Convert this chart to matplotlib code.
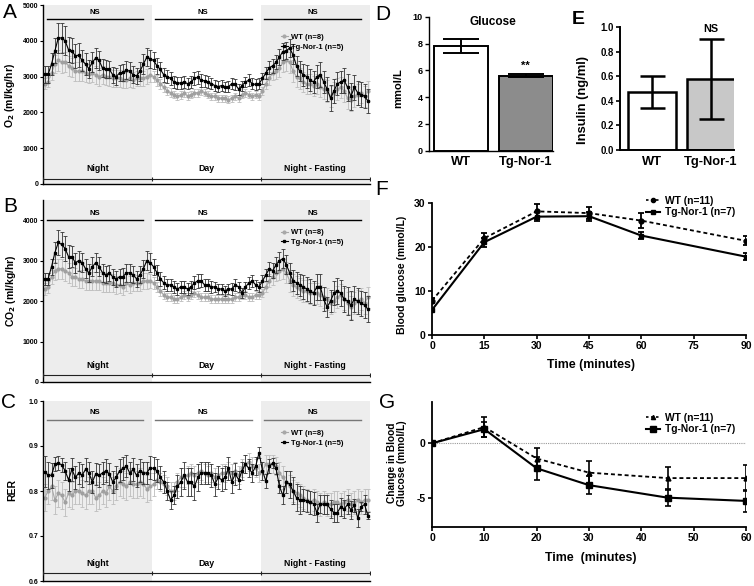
import numpy as np
import matplotlib
matplotlib.use("Agg")
import matplotlib.pyplot as plt
from matplotlib.lines import Line2D

plt.rcParams['font.family'] = ['Liberation Sans', 'DejaVu Sans']
plt.rcParams['font.weight'] = 'bold'
plt.rcParams['axes.labelweight'] = 'bold'
plt.rcParams['axes.linewidth'] = 1.0

# ---------------- data ----------------
regions = ["Night", "Day", "Night - Fasting"]

o2_tg = [3060, 3060, 3350, 3720, 4080, 4080, 4000, 3750, 3720, 3580, 3600, 3450, 3350, 3220, 3400, 3520,
         3450, 3230, 3220, 3200, 3050, 3000, 3100, 3120, 3180, 3150, 3050, 3020, 3150, 3350, 3540, 3500,
         3450, 3300, 3200, 3050, 3000, 2950, 2850, 2820, 2820, 2850, 2800, 2850, 2950, 2980, 2900, 2880,
         2850, 2800, 2750, 2720, 2750, 2720, 2720, 2800, 2780, 2650, 2750, 2850, 2900, 2800, 2780, 2800,
         2950, 3100, 3250, 3300, 3400, 3550, 3700, 3720, 3800, 3600, 3300, 3150, 3050, 3000, 2900, 2850,
         3000, 3050, 2850, 2650, 2400, 2600, 2800, 2850, 2900, 2700, 2450, 2700, 2550, 2500, 2450, 2320]
o2_tg_err = [250, 250, 300, 350, 420, 430, 400, 350, 350, 330, 330, 300, 300, 250, 280, 280,
             270, 250, 250, 230, 220, 230, 230, 240, 250, 250, 240, 230, 260, 280, 250, 250,
             230, 220, 200, 190, 180, 180, 170, 160, 160, 170, 160, 170, 180, 190, 180, 170,
             160, 160, 150, 150, 150, 140, 150, 160, 160, 150, 140, 150, 160, 160, 150, 150,
             160, 170, 180, 200, 200, 220, 230, 240, 250, 260, 270, 280, 300, 320, 300, 300,
             320, 350, 300, 330, 370, 340, 320, 320, 350, 380, 380, 350, 340, 340, 330, 330]
o2_wt = [2800, 2850, 3100, 3350, 3450, 3400, 3420, 3300, 3250, 3150, 3150, 3150, 3100, 3080, 3100, 3050,
         3000, 3050, 3000, 2980, 2950, 2950, 2950, 2900, 2900, 2950, 2900, 2950, 2950, 2950, 3000, 3050,
         3000, 2900, 2800, 2700, 2600, 2550, 2500, 2450, 2480, 2550, 2450, 2500, 2550, 2550, 2600, 2550,
         2500, 2450, 2450, 2400, 2400, 2400, 2350, 2400, 2450, 2400, 2500, 2550, 2500, 2450, 2500, 2450,
         2600, 2800, 2950, 3100, 3150, 3250, 3400, 3450, 3400, 3150, 3000, 2950, 2850, 2800, 2800, 2750,
         2800, 2700, 2650, 2600, 2450, 2550, 2650, 2700, 2600, 2400, 2350, 2450, 2500, 2550, 2450, 2600]
o2_wt_err = [150, 150, 200, 250, 300, 300, 280, 270, 260, 260, 260, 260, 260, 260, 260, 250,
             250, 250, 240, 240, 240, 240, 230, 230, 230, 230, 220, 220, 220, 220, 220, 200,
             160, 150, 140, 130, 120, 120, 110, 100, 110, 110, 110, 110, 110, 110, 110, 100,
             100, 100, 100, 100, 100, 100, 100, 100, 100, 100, 110, 110, 110, 100, 100, 100,
             120, 150, 180, 200, 230, 250, 280, 280, 300, 300, 300, 300, 280, 280, 280, 280,
             280, 280, 280, 300, 300, 300, 300, 300, 300, 300, 300, 300, 300, 300, 300, 280]

co2_tg = [2550, 2550, 2850, 3200, 3450, 3400, 3300, 3100, 3100, 2950, 3000, 2950, 2800, 2700, 2850, 2950,
          2850, 2700, 2650, 2700, 2600, 2550, 2600, 2600, 2700, 2700, 2650, 2550, 2650, 2800, 3000, 2950,
          2850, 2700, 2550, 2450, 2400, 2400, 2350, 2300, 2350, 2350, 2300, 2350, 2450, 2500, 2500, 2400,
          2400, 2350, 2350, 2300, 2300, 2250, 2300, 2300, 2400, 2350, 2200, 2350, 2450, 2500, 2400, 2350,
          2500, 2650, 2800, 2750, 2900, 3000, 3050, 2900, 2700, 2500, 2450, 2400, 2350, 2300, 2250, 2200,
          2350, 2350, 2050, 1850, 2000, 2200, 2250, 2200, 2050, 2000, 1900, 2050, 2000, 1950, 1900, 1800]
co2_tg_err = [150, 150, 200, 250, 300, 300, 300, 280, 260, 250, 250, 240, 230, 220, 230, 240,
              230, 220, 210, 200, 200, 200, 200, 210, 220, 220, 210, 200, 210, 220, 230, 230,
              200, 190, 170, 160, 150, 150, 140, 140, 140, 150, 140, 150, 160, 170, 160, 150,
              140, 140, 130, 130, 130, 130, 130, 140, 140, 130, 120, 130, 140, 140, 130, 130,
              140, 150, 170, 190, 200, 220, 230, 240, 250, 260, 270, 280, 300, 300, 290, 300,
              320, 330, 300, 250, 280, 300, 310, 320, 330, 340, 360, 330, 320, 310, 320, 320]
co2_wt = [2300, 2350, 2600, 2750, 2800, 2800, 2750, 2700, 2600, 2600, 2550, 2550, 2500, 2500, 2500, 2500,
          2500, 2450, 2450, 2450, 2450, 2400, 2400, 2350, 2450, 2400, 2450, 2450, 2450, 2500, 2500, 2500,
          2450, 2350, 2250, 2150, 2100, 2100, 2050, 2050, 2100, 2150, 2100, 2150, 2200, 2150, 2100, 2100,
          2100, 2050, 2050, 2050, 2050, 2050, 2050, 2050, 2100, 2100, 2150, 2150, 2100, 2100, 2150, 2150,
          2200, 2350, 2500, 2600, 2700, 2750, 2800, 2700, 2500, 2400, 2350, 2300, 2250, 2250, 2200, 2200,
          2200, 2150, 2100, 2050, 1950, 2000, 2100, 2150, 2050, 1950, 1850, 1950, 2000, 2050, 1950, 2100]
co2_wt_err = [150, 150, 180, 220, 250, 250, 250, 240, 230, 230, 230, 230, 230, 230, 230, 230,
              220, 220, 220, 220, 220, 220, 210, 210, 210, 210, 210, 200, 200, 200, 200, 180,
              140, 130, 120, 110, 100, 100, 90, 90, 90, 90, 90, 90, 90, 90, 90, 90,
              90, 90, 90, 90, 90, 90, 90, 90, 90, 90, 90, 90, 90, 90, 90, 90,
              110, 130, 160, 190, 210, 230, 250, 260, 270, 270, 270, 270, 260, 260, 260, 260,
              260, 260, 260, 270, 270, 280, 280, 280, 280, 280, 280, 280, 280, 280, 270, 260]

rer_tg = [0.843, 0.835, 0.835, 0.860, 0.862, 0.858, 0.845, 0.825, 0.848, 0.830, 0.840, 0.835, 0.848, 0.840, 0.820, 0.838,
          0.835, 0.840, 0.845, 0.838, 0.820, 0.830, 0.845, 0.850, 0.855, 0.840, 0.848, 0.835, 0.845, 0.840, 0.840, 0.852,
          0.850, 0.845, 0.830, 0.820, 0.800, 0.780, 0.790, 0.810, 0.820, 0.835, 0.820, 0.820, 0.810, 0.830, 0.840, 0.840,
          0.840, 0.835, 0.815, 0.830, 0.825, 0.830, 0.850, 0.820, 0.838, 0.825, 0.845, 0.860, 0.850, 0.840, 0.855, 0.885,
          0.845, 0.822, 0.855, 0.862, 0.850, 0.810, 0.790, 0.820, 0.815, 0.800, 0.785, 0.780, 0.780, 0.778, 0.775, 0.772,
          0.752, 0.772, 0.770, 0.770, 0.760, 0.752, 0.752, 0.765, 0.760, 0.770, 0.758, 0.768, 0.740, 0.765, 0.770, 0.745]
rer_tg_err = [0.035, 0.030, 0.028, 0.015, 0.015, 0.015, 0.020, 0.025, 0.025, 0.025, 0.025, 0.025, 0.025, 0.025, 0.025, 0.025,
              0.025, 0.025, 0.025, 0.025, 0.025, 0.025, 0.025, 0.025, 0.025, 0.025, 0.025, 0.025, 0.025, 0.025, 0.025, 0.025,
              0.025, 0.025, 0.025, 0.025, 0.020, 0.020, 0.020, 0.025, 0.030, 0.030, 0.030, 0.030, 0.030, 0.030, 0.025, 0.025,
              0.025, 0.025, 0.025, 0.025, 0.025, 0.025, 0.025, 0.025, 0.025, 0.020, 0.020, 0.020, 0.020, 0.020, 0.020, 0.012,
              0.020, 0.015, 0.015, 0.012, 0.012, 0.015, 0.020, 0.025, 0.030, 0.030, 0.030, 0.030, 0.025, 0.025, 0.025, 0.025,
              0.020, 0.020, 0.020, 0.020, 0.020, 0.020, 0.020, 0.020, 0.020, 0.020, 0.020, 0.015, 0.020, 0.010, 0.020, 0.008]
rer_wt = [0.785, 0.800, 0.810, 0.780, 0.795, 0.790, 0.775, 0.795, 0.790, 0.800, 0.800, 0.795, 0.790, 0.800, 0.800, 0.785,
          0.790, 0.800, 0.795, 0.810, 0.800, 0.810, 0.820, 0.815, 0.810, 0.820, 0.815, 0.815, 0.820, 0.815, 0.805, 0.810,
          0.815, 0.825, 0.820, 0.815, 0.810, 0.800, 0.800, 0.820, 0.830, 0.830, 0.835, 0.840, 0.835, 0.840, 0.845, 0.840,
          0.835, 0.840, 0.830, 0.835, 0.840, 0.840, 0.845, 0.840, 0.845, 0.835, 0.850, 0.860, 0.865, 0.855, 0.850, 0.840,
          0.845, 0.860, 0.860, 0.860, 0.855, 0.840, 0.830, 0.820, 0.810, 0.800, 0.795, 0.790, 0.785, 0.780, 0.775, 0.780,
          0.775, 0.770, 0.775, 0.770, 0.770, 0.775, 0.775, 0.770, 0.775, 0.780, 0.770, 0.775, 0.780, 0.775, 0.780, 0.780]
rer_wt_err = [0.030, 0.030, 0.030, 0.030, 0.030, 0.030, 0.030, 0.030, 0.030, 0.030, 0.030, 0.030, 0.030, 0.030, 0.030, 0.030,
              0.030, 0.030, 0.030, 0.030, 0.030, 0.030, 0.030, 0.030, 0.030, 0.030, 0.030, 0.030, 0.030, 0.030, 0.030, 0.030,
              0.025, 0.020, 0.020, 0.020, 0.020, 0.020, 0.020, 0.020, 0.020, 0.020, 0.020, 0.020, 0.020, 0.020, 0.020, 0.020,
              0.020, 0.020, 0.020, 0.020, 0.020, 0.020, 0.020, 0.020, 0.020, 0.020, 0.020, 0.020, 0.020, 0.020, 0.020, 0.020,
              0.020, 0.020, 0.020, 0.020, 0.020, 0.025, 0.025, 0.025, 0.025, 0.025, 0.025, 0.025, 0.025, 0.025, 0.025, 0.025,
              0.025, 0.025, 0.025, 0.025, 0.025, 0.025, 0.025, 0.025, 0.025, 0.025, 0.025, 0.025, 0.025, 0.025, 0.025, 0.025]

groups = ["WT", "Tg-Nor-1"]
glucose_mean = [7.8, 5.6]
glucose_err = [0.5, 0.1]
insulin_mean = [0.47, 0.58]
insulin_err = [0.13, 0.325]

gtt_time = [0, 15, 30, 45, 60, 90]
gtt_wt = [7.8, 22.0, 28.1, 27.7, 26.0, 21.4]
gtt_wt_err = [0.5, 1.2, 1.7, 1.4, 1.7, 1.0]
gtt_tg = [5.7, 21.1, 26.9, 27.0, 22.6, 17.8]
gtt_tg_err = [0.3, 1.0, 1.0, 1.0, 0.8, 0.8]

itt_time = [0, 10, 20, 30, 45, 60]
itt_wt = [0.0, 1.5, -1.4, -2.7, -3.2, -3.2]
itt_wt_err = [0.0, 0.9, 1.0, 1.1, 1.05, 1.2]
itt_tg = [0.0, 1.3, -2.3, -3.85, -5.0, -5.3]
itt_tg_err = [0.0, 0.7, 1.05, 0.8, 0.8, 1.0]

# ---------------- figure ----------------
W, H = 754, 586
fig = plt.figure(figsize=(W / 100, H / 100), dpi=100)


def ax_px(x0, y0, x1, y1):
    return fig.add_axes([x0 / W, 1 - y1 / H, (x1 - x0) / W, (y1 - y0) / H])


def ftext(x, y, s, **kw):
    kw.setdefault('ha', 'center')
    kw.setdefault('va', 'center')
    return fig.text(x / W, 1 - y / H, s, **kw)


def timeseries(ax, tg, tg_err, wt, wt_err, ylim, yticks, ns_y, ns_txt_y, lab_y, br_y, ns_color):
    n = len(tg)
    x = np.arange(n)
    ax.set_xlim(-0.5, n - 0.4)
    ax.set_ylim(*ylim)
    ax.axvspan(-0.5, 31.5, color='#ededed', zorder=0, lw=0)
    ax.axvspan(63.5, n - 0.4, color='#ededed', zorder=0, lw=0)
    ax.errorbar(x, wt, yerr=wt_err, color='#a8a8a8', ecolor='#bdbdbd', elinewidth=0.6, capsize=1.2,
                capthick=0.6, lw=0.8, marker='o', ms=2.0, mec='#a0a0a0', mfc='#a0a0a0', zorder=2)
    ax.errorbar(x, tg, yerr=tg_err, color='black', ecolor='#333333', elinewidth=0.6, capsize=1.2,
                capthick=0.6, lw=0.8, marker='s', ms=2.0, mec='black', mfc='black', zorder=3)
    for (a, b) in [(0.8, 28.9), (32.4, 60.8), (64.5, 92.9)]:
        ax.plot([a, b], [ns_y, ns_y], color=ns_color, lw=1.0, zorder=4)
        ax.text((a + b) / 2, ns_txt_y, "NS", ha='center', va='center', fontsize=5.5)
    for xc, lab in zip([15.5, 47.5, 79.5], regions):
        ax.text(xc, lab_y, lab, ha='center', va='center', fontsize=6.3)
    ax.plot([-0.5, n - 0.5], [br_y, br_y], color='#222222', lw=0.8, zorder=4)
    ax.plot([-0.5, 31.5, 63.5, n - 0.5], [br_y] * 4, ls='none', marker='|', ms=3.5, mew=0.8,
            color='#222222', zorder=4)
    ax.spines['top'].set_visible(False)
    ax.spines['right'].set_visible(False)
    ax.set_xticks([])
    ax.set_yticks(yticks)
    ax.tick_params(axis='y', labelsize=5, length=2.5, width=0.8, pad=1.0)
    handles = [Line2D([], [], color='#a8a8a8', marker='o', ms=2.0, lw=0.8),
               Line2D([], [], color='black', marker='s', ms=2.0, lw=0.8)]
    ax.legend(handles, ["WT (n=8)", "Tg-Nor-1 (n=5)"], loc='upper left', bbox_to_anchor=(0.71, 0.87),
              frameon=False, fontsize=5.5, handlelength=1.0, handletextpad=0.4, labelspacing=0.3,
              borderpad=0.2)


# Panel A
axA = ax_px(43, 5, 370, 184)
timeseries(axA, o2_tg, o2_tg_err, o2_wt, o2_wt_err, (0, 5000), [0, 1000, 2000, 3000, 4000, 5000],
           4600, 4800, 430, 150, 'black')
ftext(10, 95, "O$_2$ (ml/kg/hr)", rotation=90, fontsize=7.5)
ftext(10, 12, "A", fontsize=15, fontweight='normal')

# Panel B
axB = ax_px(43, 200, 370, 382)
timeseries(axB, co2_tg, co2_tg_err, co2_wt, co2_wt_err, (0, 4500), [0, 1000, 2000, 3000, 4000],
           4000, 4170, 413, 165, 'black')
ftext(11, 291, "CO$_2$ (ml/kg/hr)", rotation=90, fontsize=7.5)
ftext(10, 206, "B", fontsize=15, fontweight='normal')

# Panel C
axC = ax_px(43, 401, 370, 581)
timeseries(axC, rer_tg, rer_tg_err, rer_wt, rer_wt_err, (0.6, 1.0), [0.6, 0.7, 0.8, 0.9, 1.0],
           0.958, 0.975, 0.639, 0.6185, '#777777')
axC.yaxis.set_major_formatter(matplotlib.ticker.FormatStrFormatter('%.1f'))
ftext(12, 490, "RER", rotation=90, fontsize=7.5)
ftext(9, 402, "C", fontsize=15, fontweight='normal')

# Panel D
axD = ax_px(429, 16.7, 553, 150.7)
axD.bar([0, 1], glucose_mean, width=0.837, color=['white', '#8c8c8c'], edgecolor='black', lw=1.4, zorder=2)
axD.errorbar([0, 1], glucose_mean, yerr=glucose_err, fmt='none', ecolor='black', elinewidth=1.4,
             capsize=13, capthick=1.4, zorder=3)
axD.set_xlim(-0.496, 1.426)
axD.set_ylim(0, 10)
axD.set_yticks([0, 2, 4, 6, 8, 10])
axD.set_xticks([0, 1])
axD.set_xticklabels(groups, fontsize=9.3)
axD.tick_params(axis='y', labelsize=6.5, length=3, width=1, pad=1.5)
axD.tick_params(axis='x', length=0, pad=4)
for s in ['top', 'right']:
    axD.spines[s].set_visible(False)
axD.text(0.5, 9.6, "Glucose", ha='center', va='center', fontsize=8.5)
axD.text(1, 6.3, "**", ha='center', va='center', fontsize=8)
ftext(398, 88, "mmol/L", rotation=90, fontsize=8)
ftext(383, 15, "D", fontsize=15, fontweight='normal')

# Panel E
axE = ax_px(620, 27, 734, 150)
axE.bar([0, 1], insulin_mean, width=0.82, color=['white', '#c8c8c8'], edgecolor='black', lw=1.8, zorder=2)
axE.errorbar([0, 1], insulin_mean, yerr=insulin_err, fmt='none', ecolor='black', elinewidth=1.8,
             capsize=9, capthick=1.8, zorder=3)
axE.set_xlim(-0.547, 1.40)
axE.set_ylim(0, 1.0)
axE.set_yticks([0, 0.2, 0.4, 0.6, 0.8, 1.0])
axE.yaxis.set_major_formatter(matplotlib.ticker.FormatStrFormatter('%.1f'))
axE.set_xticks([0, 1])
axE.set_xticklabels(groups, fontsize=9.3)
axE.tick_params(axis='y', labelsize=6.9, length=3, width=1.2, pad=1.5)
axE.tick_params(axis='x', length=0, pad=4)
for s in ['top', 'right']:
    axE.spines[s].set_visible(False)
axE.spines['left'].set_linewidth(1.4)
axE.spines['bottom'].set_linewidth(1.4)
axE.text(1, 0.98, "NS", ha='center', va='center', fontsize=7.8)
ftext(583, 100, "Insulin (ng/ml)", rotation=90, fontsize=9.4)
ftext(578, 20, "E", fontsize=14, fontweight='bold')

# Panel F
axF = ax_px(432, 203, 746, 335)
axF.errorbar(gtt_time, gtt_wt, yerr=gtt_wt_err, color='black', ls=(0, (2.2, 1.6)), lw=1.3, marker='o', ms=3.5,
             elinewidth=1.3, capsize=2.5, capthick=1.3, zorder=3)
axF.errorbar(gtt_time, gtt_tg, yerr=gtt_tg_err, color='black', ls='-', lw=1.5, marker='s', ms=3.5,
             elinewidth=1.3, capsize=2.5, capthick=1.3, zorder=3)
axF.set_xlim(0, 90)
axF.set_ylim(0, 30)
axF.set_xticks([0, 15, 30, 45, 60, 75, 90])
axF.set_yticks([0, 10, 20, 30])
axF.tick_params(labelsize=7.5, length=3, width=1.2, pad=1.5)
for s in ['top', 'right']:
    axF.spines[s].set_visible(False)
axF.spines['left'].set_linewidth(1.3)
axF.spines['bottom'].set_linewidth(1.3)
axF.legend([Line2D([], [], color='black', ls=(0, (1.5, 1.5)), lw=1.2, marker='o', ms=3),
            Line2D([], [], color='black', ls='-', lw=1.5, marker='s', ms=3.5)],
           ["WT (n=11)", "Tg-Nor-1 (n=7)"], loc='upper left', bbox_to_anchor=(0.66, 1.11), frameon=False,
           fontsize=7.4, handlelength=1.3, handletextpad=0.5, labelspacing=0.15, borderpad=0.2)
ftext(591, 365, "Time (minutes)", fontsize=8.9)
ftext(402, 275, "Blood glucose (mmol/L)", rotation=90, fontsize=7.5)
ftext(382, 190, "F", fontsize=15, fontweight='normal')

# Panel G
axG = ax_px(432, 402, 746, 527)
axG.axhline(0, color='#999999', lw=0.8, ls=(0, (1, 1)), zorder=1)
axG.errorbar(itt_time, itt_wt, yerr=itt_wt_err, color='black', ls=(0, (2.2, 1.6)), lw=1.3, marker='^', ms=3.5,
             elinewidth=1.2, capsize=2.5, capthick=1.2, zorder=3)
axG.errorbar(itt_time, itt_tg, yerr=itt_tg_err, color='black', ls='-', lw=1.5, marker='s', ms=4,
             elinewidth=1.2, capsize=2.5, capthick=1.2, zorder=3)
axG.set_xlim(0, 60)
axG.set_ylim(-7.7, 3.8)
axG.set_xticks([0, 10, 20, 30, 40, 50, 60])
axG.set_yticks([-5, 0])
axG.set_yticklabels(["-5", "0"])
axG.tick_params(labelsize=7.5, length=3, width=1.2, pad=1.5)
for s in ['top', 'right']:
    axG.spines[s].set_visible(False)
axG.spines['left'].set_linewidth(1.3)
axG.spines['bottom'].set_linewidth(1.3)
axG.legend([Line2D([], [], color='black', ls=(0, (1.5, 1.5)), lw=1.2, marker='^', ms=3),
            Line2D([], [], color='black', ls='-', lw=1.5, marker='s', ms=4)],
           ["WT (n=11)", "Tg-Nor-1 (n=7)"], loc='upper left', bbox_to_anchor=(0.66, 0.97), frameon=False,
           fontsize=7.4, handlelength=1.3, handletextpad=0.5, labelspacing=0.15, borderpad=0.2)
ftext(591, 558, "Time  (minutes)", fontsize=8.9)
ftext(397, 463, "Change in Blood\nGlucose (mmol/L)", rotation=90, fontsize=7.3, linespacing=1.0)
ftext(387, 403, "G", fontsize=15, fontweight='normal')

fig.savefig("out.png", dpi=100)
